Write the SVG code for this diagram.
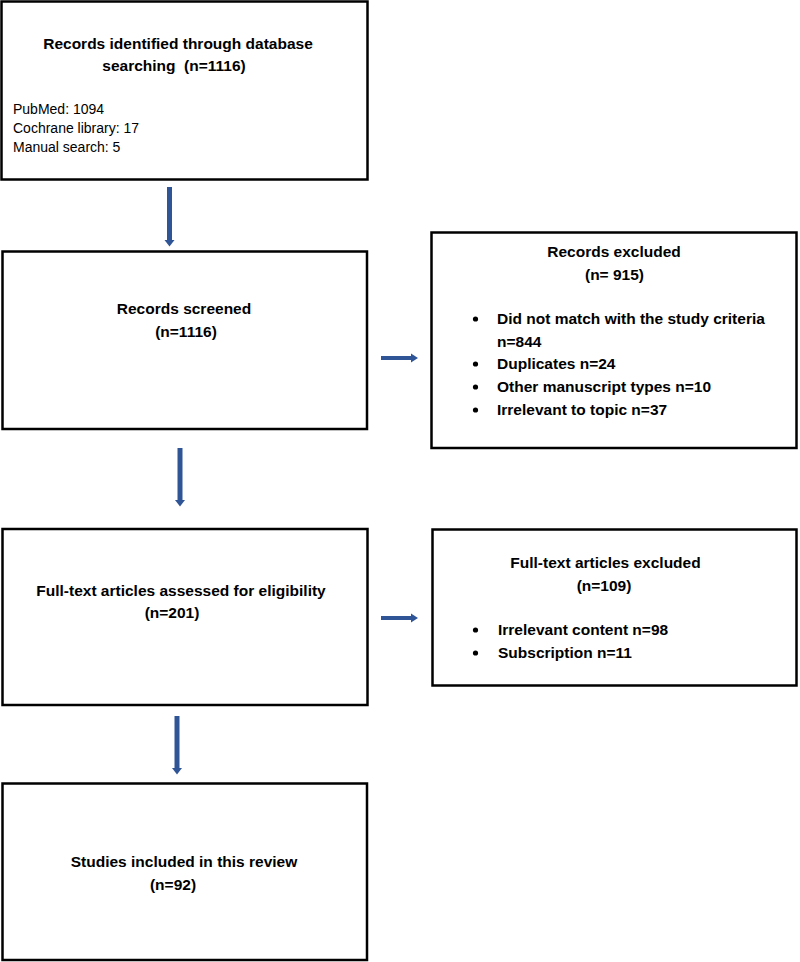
<svg xmlns="http://www.w3.org/2000/svg" width="800" height="962" viewBox="0 0 800 962">
<style>
.box{fill:#fff;stroke:#000;stroke-width:2.5}
.b{font-family:"Liberation Sans",Arial,sans-serif;font-weight:bold;font-size:15.5px;fill:#000}
.r{font-family:"Liberation Sans",Arial,sans-serif;font-size:14px;fill:#000}
.c{text-anchor:middle}
.shaft{stroke:#2F5597;stroke-width:5;fill:none}
.head{fill:#2F5597}
</style>
<rect x="0" y="0" width="800" height="962" fill="#fff"/>
<g id="identified">
<rect class="box" x="1.5" y="1.5" width="366" height="178"/>
<text class="b c" x="178" y="49">Records identified through database</text>
<text class="b c" x="174" y="71" xml:space="preserve">searching  (n=1116)</text>
<text class="r" x="13" y="114">PubMed: 1094</text>
<text class="r" x="13" y="133">Cochrane library: 17</text>
<text class="r" x="13" y="152">Manual search: 5</text>
</g>
<g id="screened">
<rect class="box" x="2.5" y="251.5" width="364.5" height="177.5"/>
<text class="b c" x="184" y="314">Records screened</text>
<text class="b c" x="186" y="337">(n=1116)</text>
</g>
<g id="records-excluded">
<rect class="box" x="431.5" y="232.5" width="365" height="215.5"/>
<text class="b c" x="614" y="257">Records excluded</text>
<text class="b c" x="614.5" y="280">(n= 915)</text>
<circle cx="475.5" cy="319" r="2.6"/>
<text class="b" x="497" y="324">Did not match with the study criteria</text>
<text class="b" x="497" y="347">n=844</text>
<circle cx="475.5" cy="364" r="2.6"/>
<text class="b" x="497" y="369">Duplicates n=24</text>
<circle cx="475.5" cy="387" r="2.6"/>
<text class="b" x="497" y="392">Other manuscript types n=10</text>
<circle cx="475.5" cy="410" r="2.6"/>
<text class="b" x="497" y="415">Irrelevant to topic n=37</text>
</g>
<g id="assessed">
<rect class="box" x="2.5" y="529" width="365" height="176"/>
<text class="b c" x="181" y="596">Full-text articles assessed for eligibility</text>
<text class="b c" x="172" y="618">(n=201)</text>
</g>
<g id="fulltext-excluded">
<rect class="box" x="432.5" y="529.5" width="364" height="156"/>
<text class="b c" x="605.5" y="568">Full-text articles excluded</text>
<text class="b c" x="604" y="591">(n=109)</text>
<circle cx="475.5" cy="630" r="2.6"/>
<text class="b" x="498" y="635">Irrelevant content n=98</text>
<circle cx="475.5" cy="653" r="2.6"/>
<text class="b" x="498" y="658">Subscription n=11</text>
</g>
<g id="included">
<rect class="box" x="2.5" y="783.5" width="364.5" height="176.5"/>
<text class="b c" x="184" y="867">Studies included in this review</text>
<text class="b c" x="173" y="890">(n=92)</text>
</g>
<g id="connectors">
<line class="shaft" x1="169.5" y1="187" x2="169.5" y2="241"/>
<polygon class="head" points="164.5,240 174.5,240 169.5,246.5"/>
<line class="shaft" x1="180" y1="448" x2="180" y2="501"/>
<polygon class="head" points="175,500 185,500 180,506.5"/>
<line class="shaft" x1="177" y1="716" x2="177" y2="769"/>
<polygon class="head" points="172,768 182,768 177,774.5"/>
<line class="shaft" style="stroke-width:4" x1="381" y1="358" x2="412" y2="358"/>
<polygon class="head" points="411,353.5 411,362.5 418,358"/>
<line class="shaft" style="stroke-width:4" x1="381" y1="618" x2="412" y2="618"/>
<polygon class="head" points="411,613.5 411,622.5 418,618"/>
</g>
</svg>
